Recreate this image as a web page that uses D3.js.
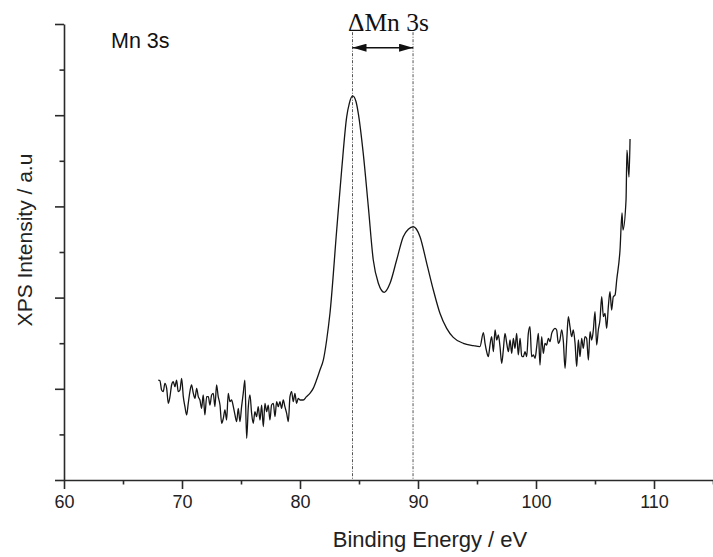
<!DOCTYPE html>
<html>
<head>
<meta charset="utf-8">
<script src="https://cdn.jsdelivr.net/npm/d3@7"></script>
<style>
  html, body { margin: 0; padding: 0; background: #fff; }
  svg { display: block; }
</style>
</head>
<body>
<svg id="chart" width="713" height="557"></svg>
<script>
// ---------- DATA ----------
// Binding energy (eV) of each recorded point
const energy = [
  67.99, 68.13, 68.27, 68.41, 68.55, 68.70, 68.84, 68.98, 69.12, 69.26,
  69.40, 69.54, 69.68, 69.83, 69.97, 70.11, 70.25, 70.39, 70.53, 70.67,
  70.81, 70.96, 71.10, 71.24, 71.38, 71.52, 71.66, 71.80, 71.94, 72.09,
  72.23, 72.37, 72.51, 72.65, 72.79, 72.93, 73.07, 73.22, 73.36, 73.50,
  73.64, 73.78, 73.92, 74.06, 74.20, 74.35, 74.49, 74.63, 74.77, 74.91,
  75.05, 75.19, 75.33, 75.48, 75.62, 75.76, 75.90, 76.04, 76.18, 76.32,
  76.46, 76.61, 76.75, 76.89, 77.03, 77.17, 77.31, 77.45, 77.59, 77.74,
  77.88, 78.02, 78.16, 78.30, 78.44, 78.58, 78.72, 78.87, 79.01, 79.15,
  79.29, 79.43, 79.57, 79.71, 79.85, 80.00,
  80.27, 80.55, 80.84, 81.12, 81.40, 81.69, 81.98, 82.26, 82.54, 83.11,
  83.53, 83.96, 84.18, 84.46, 84.75, 84.94, 85.36, 85.79, 86.21, 86.64,
  87.14, 87.63, 88.19, 88.75, 89.18, 89.60, 90.17, 90.74, 91.30, 91.86,
  92.43, 92.99, 93.84, 94.69, 95.25, 95.54,
  95.68, 95.82, 95.96, 96.10, 96.24, 96.39, 96.53, 96.67, 96.81, 96.95,
  97.09, 97.23, 97.37, 97.52, 97.66, 97.80, 97.94, 98.08, 98.22, 98.36,
  98.50, 98.65, 98.79, 98.93, 99.07, 99.21, 99.35, 99.49, 99.63, 99.78,
  99.92, 100.06, 100.20, 100.34, 100.48, 100.62, 100.76, 100.90, 101.05, 101.19,
  101.33, 101.47, 101.61, 101.75, 101.89, 102.03, 102.18, 102.32, 102.46, 102.60,
  102.74, 102.88, 103.02, 103.16, 103.31, 103.45, 103.59, 103.73, 103.87, 104.01,
  104.15, 104.29, 104.44, 104.58, 104.72, 104.86, 105.00, 105.14, 105.28, 105.42,
  105.57, 105.71, 105.85, 105.99, 106.13, 106.27, 106.41, 106.55, 106.70, 106.84,
  107.12, 107.29, 107.37, 107.63, 107.71, 107.88, 107.97
];
// XPS intensity (arbitrary units) at each energy
const intensity = [
  1.096, 1.089, 0.987, 0.969, 1.060, 1.005, 0.841, 0.914, 1.042, 1.078,
  1.023, 1.096, 0.969, 0.987, 1.115, 0.914, 0.804, 0.713, 0.841, 0.969,
  1.042, 0.950, 0.895, 1.005, 0.914, 0.877, 0.786, 0.932, 0.713, 0.914,
  0.914, 0.822, 0.932, 0.950, 0.804, 1.042, 0.914, 0.822, 0.621, 0.676,
  0.768, 0.658, 0.950, 0.859, 0.877, 0.804, 0.713, 0.640, 0.786, 0.640,
  0.804, 0.950, 1.096, 0.457, 0.804, 0.932, 0.731, 0.621, 0.749, 0.694,
  0.804, 0.658, 0.822, 0.585, 0.841, 0.749, 0.822, 0.658, 0.822, 0.841,
  0.694, 0.859, 0.804, 0.859, 0.786, 0.877, 0.804, 0.731, 0.640, 0.914,
  0.969, 0.859, 0.950, 0.841, 0.895, 0.877,
  0.877, 0.914, 0.950, 1.005, 1.096, 1.206, 1.316, 1.535, 1.828, 2.741,
  3.399, 3.984, 4.130, 4.211, 4.148, 4.021, 3.582, 2.997, 2.412, 2.157,
  2.058, 2.157, 2.412, 2.668, 2.749, 2.777, 2.668, 2.376, 2.083, 1.828,
  1.663, 1.564, 1.499, 1.473, 1.462, 1.615,
  1.499, 1.407, 1.352, 1.480, 1.572, 1.407, 1.645, 1.535, 1.590, 1.462,
  1.279, 1.425, 1.608, 1.499, 1.407, 1.535, 1.389, 1.553, 1.444, 1.608,
  1.371, 1.553, 1.360, 1.352, 1.407, 1.352, 1.608, 1.681, 1.352, 1.371,
  1.334, 1.462, 1.608, 1.261, 1.572, 1.389, 1.499, 1.480, 1.553, 1.517,
  1.608, 1.645, 1.663, 1.645, 1.499, 1.535, 1.645, 1.517, 1.224, 1.517,
  1.791, 1.681, 1.572, 1.645, 1.499, 1.243, 1.535, 1.352, 1.553, 1.444,
  1.572, 1.553, 1.316, 1.626, 1.535, 1.645, 1.846, 1.480, 1.645, 1.754,
  2.010, 1.791, 1.827, 1.663, 1.901, 2.065, 1.864, 2.010, 2.029, 2.193,
  2.522, 2.928, 2.741, 3.070, 3.618, 3.322, 3.739
];

const xMajorTicks = [60, 70, 80, 90, 100, 110];
const xMinorTicks = [65, 75, 85, 95, 105, 115];
const yMajorTicks = [0, 1, 2, 3, 4, 5];
const yMinorTicks = [0.5, 1.5, 2.5, 3.5, 4.5];
const peakPositions = [84.45, 89.58];     // the two Mn 3s components (dash-dot guides)
const markerTop = 4.91;                    // top of the guide lines (intensity units)
const arrowLevel = 4.74;                   // intensity level of the double arrow

const xTitle = "Binding Energy / eV";
const yTitle = "XPS Intensity / a.u";
const panelLabel = "Mn 3s";
const splitLabel = "\u0394Mn 3s";

// ---------- LAYOUT ----------
const svg = d3.select("#chart");
const padL = 64, padR = 713, padT = 24, padB = 480;

const x = d3.scaleLinear().domain([60, 115]).range([padL, padR]);
const y = d3.scaleLinear().domain([0, 5]).range([padB, padT]);

const axisColor = "#2a2a2a";
const sans = "Arial, 'Liberation Sans', Helvetica, sans-serif";

// ---------- AXES ----------
const gx = svg.append("g").attr("transform", `translate(0,${padB})`);
gx.call(d3.axisBottom(x).tickValues(xMajorTicks).tickSize(9).tickSizeOuter(0).tickPadding(6).tickFormat(d3.format("d")));
const gxMinor = svg.append("g").attr("transform", `translate(0,${padB})`);
gxMinor.call(d3.axisBottom(x).tickValues(xMinorTicks).tickSize(4.5).tickSizeOuter(0).tickFormat(""));
gxMinor.select(".domain").remove();

const gy = svg.append("g").attr("transform", `translate(${padL},0)`);
gy.call(d3.axisLeft(y).tickValues(yMajorTicks).tickSize(9).tickSizeOuter(0).tickFormat(""));
const gyMinor = svg.append("g").attr("transform", `translate(${padL},0)`);
gyMinor.call(d3.axisLeft(y).tickValues(yMinorTicks).tickSize(4.5).tickSizeOuter(0).tickFormat(""));
gyMinor.select(".domain").remove();

svg.selectAll(".domain").attr("stroke", axisColor).attr("stroke-width", 1.6);
svg.selectAll(".tick line").attr("stroke", axisColor).attr("stroke-width", 1.6);
gx.selectAll(".tick text")
  .attr("fill", "#222")
  .style("font-family", sans)
  .style("font-size", "18px");

// ---------- GUIDE LINES & ARROW ----------
svg.selectAll("line.guide")
  .data(peakPositions)
  .enter().append("line")
  .attr("class", "guide")
  .attr("x1", d => x(d)).attr("x2", d => x(d))
  .attr("y1", y(markerTop)).attr("y2", y(0))
  .attr("stroke", "#555")
  .attr("stroke-width", 1)
  .attr("stroke-dasharray", "3,1.5,1,1.5");

const defs = svg.append("defs");
defs.append("marker")
  .attr("id", "ah").attr("viewBox", "0 0 14 8")
  .attr("refX", 14).attr("refY", 4)
  .attr("markerWidth", 14).attr("markerHeight", 8)
  .attr("markerUnits", "userSpaceOnUse")
  .attr("orient", "auto-start-reverse")
  .append("path").attr("d", "M0,0 L14,4 L0,8 Z").attr("fill", "#111");

svg.append("line")
  .attr("x1", x(peakPositions[0])).attr("x2", x(peakPositions[1]))
  .attr("y1", y(arrowLevel)).attr("y2", y(arrowLevel))
  .attr("stroke", "#111").attr("stroke-width", 1.6)
  .attr("marker-start", "url(#ah)").attr("marker-end", "url(#ah)");

// ---------- SPECTRUM ----------
const pts = energy.map((e, i) => [e, intensity[i]]);
svg.append("path")
  .datum(pts)
  .attr("fill", "none")
  .attr("stroke", "#151515")
  .attr("stroke-width", 1.3)
  .attr("stroke-linejoin", "round")
  .attr("d", d3.line().x(d => x(d[0])).y(d => y(d[1])).curve(d3.curveMonotoneX));

// ---------- TEXT ----------
svg.append("text")
  .attr("x", 348).attr("y", 31)
  .style("font-family", "'Times New Roman', 'Liberation Serif', 'DejaVu Serif', serif")
  .style("font-size", "25.5px")
  .attr("fill", "#111")
  .text(splitLabel);

svg.append("text")
  .attr("x", 111).attr("y", 48)
  .style("font-family", sans)
  .style("font-size", "21.5px")
  .attr("fill", "#111")
  .text(panelLabel);

svg.append("text")
  .attr("x", 430).attr("y", 547)
  .attr("text-anchor", "middle")
  .style("font-family", sans)
  .style("font-size", "22px")
  .attr("fill", "#222")
  .text(xTitle);

svg.append("text")
  .attr("transform", "translate(32,240) rotate(-90)")
  .attr("text-anchor", "middle")
  .style("font-family", sans)
  .style("font-size", "21px")
  .attr("fill", "#222")
  .text(yTitle);
</script>
</body>
</html>
